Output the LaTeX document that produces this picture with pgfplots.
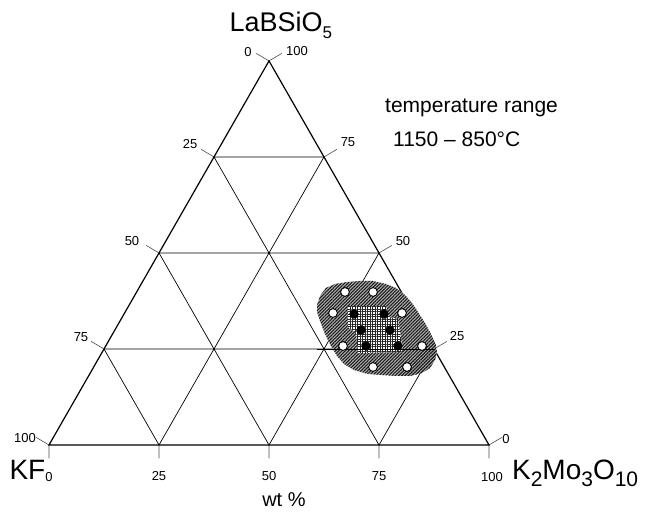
\documentclass[border=0pt]{standalone}
\usepackage{fontspec}
\setmainfont{Liberation Sans}
\usepackage{pgfplots}
\pgfplotsset{compat=1.18}
\usetikzlibrary{patterns.meta}
\newcommand\tl[1]{{\fontsize{13}{15}\selectfont #1}}
\newcommand\lsub[1]{\raisebox{-7pt}{\fontsize{17}{17}\selectfont #1}}
\newcommand\ksub[1]{\raisebox{-7pt}{\fontsize{21}{21}\selectfont #1}}
\begin{document}
\begin{tikzpicture}
\begin{axis}[x=4.4pt, y=4.435pt, xmin=-11.136, xmax=135.682, ymin=-15.558, ymax=100.338,
  hide axis, clip=false]
\path (axis cs:-11.136,-15.558) rectangle (axis cs:135.682,100.338);
% grid lines
\addplot[black, line width=0.7pt, unbounded coords=jump] coordinates {
 (12.5,21.65) (87.5,21.65) (nan,nan)
 (25,43.3) (75,43.3) (nan,nan)
 (37.5,64.95) (62.5,64.95) (nan,nan)
 (25,0) (62.5,64.95) (nan,nan)
 (50,0) (75,43.3) (nan,nan)
 (75,0) (87.5,21.65) (nan,nan)
 (25,0) (12.5,21.65) (nan,nan)
 (50,0) (25,43.3) (nan,nan)
 (75,0) (37.5,64.95)
};
% ticks
\addplot[black!70, line width=0.6pt, unbounded coords=jump] coordinates {
 (0,0) (0,-3) (nan,nan) (25,0) (25,-3) (nan,nan) (50,0) (50,-3) (nan,nan)
 (75,0) (75,-3) (nan,nan) (100,0) (100,-3) (nan,nan)
 (0,0) (-2.9,1.7) (nan,nan) (12.5,21.65) (9.6,23.35) (nan,nan)
 (25,43.3) (22.1,45.0) (nan,nan) (37.5,64.95) (34.6,66.65) (nan,nan)
 (50,86.6) (47.1,88.3) (nan,nan)
 (100,0) (102.9,1.7) (nan,nan) (87.5,21.65) (90.4,23.35) (nan,nan)
 (75,43.3) (77.9,45.0) (nan,nan) (62.5,64.95) (65.4,66.65) (nan,nan)
 (50,86.6) (52.9,88.3)
};
% triangle
\addplot[black, line width=1.2pt] coordinates {(0,0) (100,0) (50,86.6)} -- cycle;
% hatched region
\addplot[draw=none, fill=black!30] coordinates {
 (60.91,31.57) (61.59,33.60) (62.95,35.40) (65.00,36.30) (67.73,36.75) (70.68,36.98)
 (73.64,36.98) (76.59,36.30) (78.86,35.40) (80.91,33.82) (82.50,32.02) (83.86,29.99)
 (85.45,27.51) (86.82,25.03) (87.95,22.55) (88.18,20.97) (87.73,19.17) (86.59,17.36)
 (84.77,16.23) (82.05,15.56) (78.86,15.56) (75.68,15.78) (72.50,16.01) (69.32,16.91)
 (67.05,18.26) (65.45,20.07) (64.09,22.32) (62.73,25.03) (61.59,27.96) (60.91,29.99)
} -- cycle;
\addplot[draw=none, pattern={Lines[angle=45, distance=2.3pt, line width=1.1pt]}, pattern color=black!90] coordinates {
 (60.91,31.57) (61.59,33.60) (62.95,35.40) (65.00,36.30) (67.73,36.75) (70.68,36.98)
 (73.64,36.98) (76.59,36.30) (78.86,35.40) (80.91,33.82) (82.50,32.02) (83.86,29.99)
 (85.45,27.51) (86.82,25.03) (87.95,22.55) (88.18,20.97) (87.73,19.17) (86.59,17.36)
 (84.77,16.23) (82.05,15.56) (78.86,15.56) (75.68,15.78) (72.50,16.01) (69.32,16.91)
 (67.05,18.26) (65.45,20.07) (64.09,22.32) (62.73,25.03) (61.59,27.96) (60.91,29.99)
} -- cycle;
% cross-hatched inner region
\addplot[draw=none, fill=white] coordinates {
 (67.95,31.34) (76.59,31.34) (77.27,28.86) (79.32,28.41) (80.45,20.97) (70.23,20.74) (69.77,25.25) (67.95,26.61)
} -- cycle;
\addplot[draw=none, pattern={Hatch[angle=0, distance=2.5pt, line width=0.7pt]}, pattern color=black!85] coordinates {
 (67.95,31.34) (76.59,31.34) (77.27,28.86) (79.32,28.41) (80.45,20.97) (70.23,20.74) (69.77,25.25) (67.95,26.61)
} -- cycle;
\addplot[black, line width=0.6pt] coordinates {(61,21.65) (87.5,21.65)};
% open circles
\addplot[only marks, mark=*, mark size=4.4pt, mark options={fill=white, draw=black, line width=0.9pt}] coordinates {
 (67.27,34.50) (73.64,34.50) (64.55,29.76) (80.23,29.76) (66.82,22.32) (84.77,22.32) (73.64,17.59) (81.36,17.59)
};
% filled circles
\addplot[only marks, mark=*, mark size=4.4pt, mark options={fill=black, draw=black}] coordinates {
 (69.32,29.54) (76.14,29.54) (70.91,25.93) (77.50,25.93) (72.05,22.32) (79.32,22.32)
};
% labels
\node at (axis cs:52.7,94.6) {\fontsize{27}{30}\selectfont LaBSiO\lsub{5}};
\node at (axis cs:-4.9,-5.6) {\fontsize{28}{30}\selectfont KF};
\node[anchor=west, inner sep=0pt] at (axis cs:105.2,-6.3) {\fontsize{28}{30}\selectfont K\ksub{2}Mo\ksub{3}O\ksub{10}};
\node[anchor=west, inner sep=0pt] at (axis cs:76.36,76.0) {\fontsize{21}{24}\selectfont temperature range};
\node[anchor=west, inner sep=0pt] at (axis cs:78.18,69.0) {\fontsize{21}{24}\selectfont 1150 – 850°C};
\node at (axis cs:53.4,-12.4) {\fontsize{20}{24}\selectfont wt \%};
% tick labels bottom
\node at (axis cs:0,-7.2) {\tl{0}};
\node at (axis cs:25,-7.0) {\tl{25}};
\node at (axis cs:50,-7.0) {\tl{50}};
\node at (axis cs:75,-7.0) {\tl{75}};
\node at (axis cs:100.7,-7.2) {\tl{100}};
% left
\node at (axis cs:-5.45,1.6) {\tl{100}};
\node at (axis cs:7.27,24.35) {\tl{75}};
\node at (axis cs:18.86,46.0) {\tl{50}};
\node at (axis cs:32.05,67.87) {\tl{25}};
\node at (axis cs:45.23,88.6) {\tl{0}};
% right
\node at (axis cs:56.36,88.84) {\tl{100}};
\node at (axis cs:67.95,68.32) {\tl{75}};
\node at (axis cs:80.45,46.0) {\tl{50}};
\node at (axis cs:92.73,24.58) {\tl{25}};
\node at (axis cs:103.86,1.35) {\tl{0}};
\end{axis}
\end{tikzpicture}
\end{document}
